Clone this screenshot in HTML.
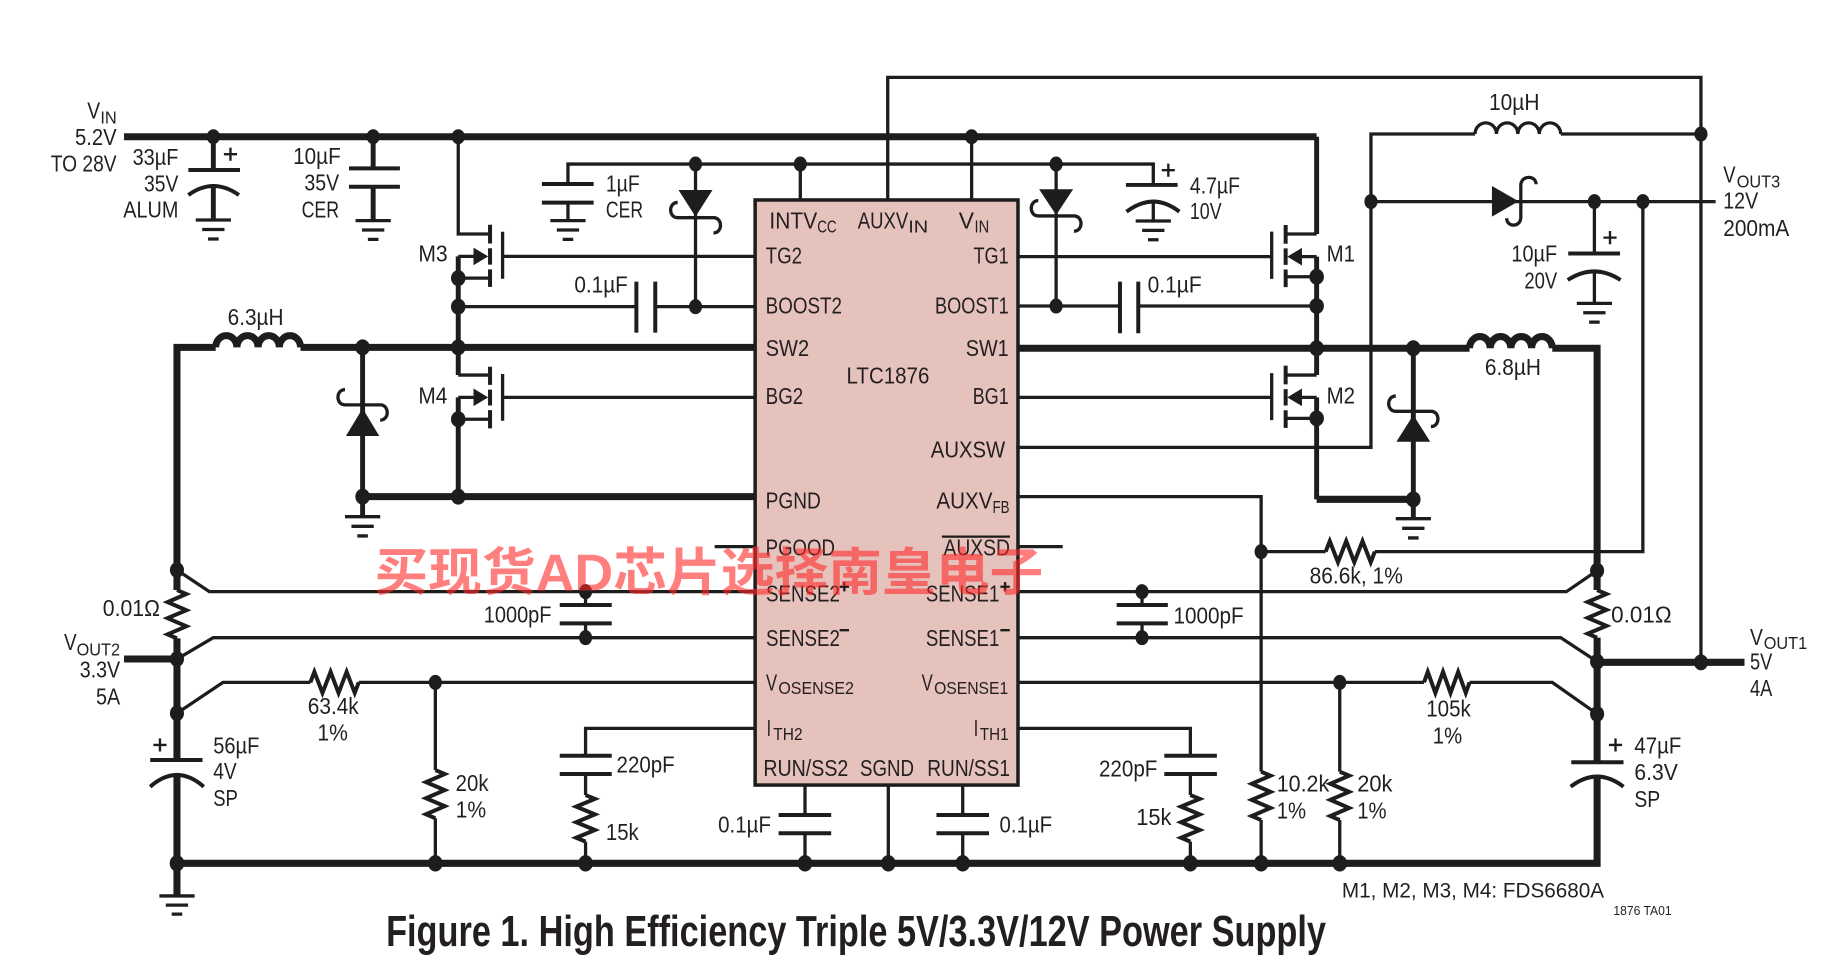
<!DOCTYPE html>
<html><head><meta charset="utf-8"><style>
html,body{margin:0;padding:0;background:#fff;overflow:hidden}
svg{display:block}
text{font-family:"Liberation Sans Narrow","Liberation Sans",sans-serif;font-size:19.5px;fill:#231f20}
.s{font-size:15px}
.th{fill:none;stroke:#1d1d1b;stroke-width:2.8}
.tk{fill:none;stroke:#1d1d1b;stroke-width:6}
.md{fill:none;stroke:#1d1d1b;stroke-width:4.2}
.pl{fill:none;stroke:#1d1d1b;stroke-width:3.4}
.ps{fill:none;stroke:#1d1d1b;stroke-width:2}
</style></head><body>
<svg width="1840" height="970" viewBox="0 0 1568 826.6" preserveAspectRatio="none" xmlns="http://www.w3.org/2000/svg">
<rect x="0" y="0" width="1568" height="826.6" fill="#fff"/>
<!-- IC -->
<rect x="643.5" y="170.4" width="224" height="498.6" fill="#e5c2bc" stroke="#1d1d1b" stroke-width="3"/>

<!-- thin wires -->
<path class="th" d="M756.5,170.4 V65.9 H1449.5 V564.4
M866,381.2 H1168.3 V114.2 H1257 M1330,114.2 H1449.5
M1168.3,171.8 H1462
M1358.7,171.8 V216 M1358.7,231 V258.5
M1400,171.8 V470.1 H1171.6 M1129.7,470.1 H1074.7
M866,423.2 H1074.7 V657.6 M1074.7,698.8 V735.7
M484,156.8 V139.8 H982.8 V157.6 M484,172.7 V188 M982.8,171.8 V188.3
M682,139.8 V170.4 M828,116.5 V170.4
M592.7,139.8 V261.3 M900,139.8 V260.8
M428.3,218.5 H643.5 M428.3,338.6 H643.5
M390.5,261.3 H542.3 M558.4,261.3 H643.5
M867.5,218.7 H1083.7 M867.5,338.6 H1083.7
M867.5,260.8 H954.4 M970,260.8 H1122
M643.5,504.2 H178.4 L150.8,485.7
M643.5,543.4 H181.7 L150.8,561.6
M643.5,581.5 H305.7 M264.5,581.5 H190 L150.8,607.8
M499,504.2 V515.6 M499,531.2 V543.4
M371,581.5 V656.2 M371,697.3 V735.7
M643.5,620.7 H499 V644 M499,659.6 V677.5 M499,717.2 V735.7
M686,669 V694.5 M686,710.1 V735.7
M757,669 V735.7
M820.4,669 V694.5 M820.4,710.1 V735.7
M867.5,504.2 H1334.8 L1361,486.3
M867.5,543.4 H1330 L1361,563.8
M867.5,581.5 H1213.5 M1252.3,581.5 H1322.8 L1361,608.4
M973.2,504.2 V515.6 M973.2,531.2 V543.4
M1141.7,581.5 V657.6 M1141.7,698.8 V735.7
M867.5,620.7 H1014.4 V644 M1014.4,659.6 V677.5 M1014.4,717.2 V735.7
M390.5,116.5 V199.4 H417.6
M390.5,237 H417.6 M390.5,319.6 H417.6 M390.5,357.3 H417.6
M390.5,218.5 H404 M390.5,338.6 H404
M1122,199.4 H1095.6 M1122,235.8 H1095.6 M1122,319.6 H1095.6 M1122,356.5 H1095.6
M1122,218.7 H1109 M1122,338.6 H1109"/>
<path class="th" stroke-width="3.2" d="M609,465.8 H643.5 M867.5,465.8 H905.6"/>

<!-- thick wires -->
<path class="tk" d="M105.7,116.5 H1122
M150.8,502.8 V296 H183.8 M256.1,296 H643.5
M867.5,296.8 H1252.3 M1322.8,296.8 H1361 V502.8
M309,423.2 H643.5
M1122,425.5 H1204.4
M150.8,544 V647.6 M150.8,660.4 V763.5
M150.8,735.7 H1361 V661.8 M1361,543.4 V649.6
M105.7,561.6 H150.8
M1361,564.4 H1486.6"/>
<path class="md" d="M1122,116.5 V199.4 M1122,218.7 V319.6 M1122,338.6 V425.5
M390.5,218.5 V319.6 M390.5,338.6 V423.2
M309,296 V440.3 M1204.4,296.8 V442
M181.8,116.5 V144.9 M181.8,158.5 V187.5
M318,116.5 V143.5 M318,159.1 V188"/>

<!-- inductors -->
<path class="tk" stroke-width="4.5" d="M183.8,296 a9.04,10 0 0 1 18.08,0 a9.04,10 0 0 1 18.08,0 a9.04,10 0 0 1 18.08,0 a9.04,10 0 0 1 18.08,0"/>
<path class="tk" stroke-width="4.5" d="M1252.3,296.8 a8.81,10 0 0 1 17.63,0 a8.81,10 0 0 1 17.63,0 a8.81,10 0 0 1 17.63,0 a8.81,10 0 0 1 17.63,0"/>
<path class="th" stroke-width="3.4" d="M1257,114.2 a9.125,9.5 0 0 1 18.25,0 a9.125,9.5 0 0 1 18.25,0 a9.125,9.5 0 0 1 18.25,0 a9.125,9.5 0 0 1 18.25,0"/>

<!-- resistors -->
<path class="pl" stroke-width="3.2" stroke-linejoin="miter" d="M150.8,502.8 L158.8,506.2 L142.8,513.1 L158.8,520 L142.8,526.8 L158.8,533.7 L142.8,540.6 L150.8,544
M1361,502.8 L1369,506.2 L1353,513 L1369,519.7 L1353,526.5 L1369,533.3 L1353,540 L1361,543.4
M371,656.2 L379,659.6 L363,666.5 L379,673.3 L363,680.2 L379,687 L363,693.9 L371,697.3
M499,677.5 L507,680.8 L491,687.4 L507,694 L491,700.7 L507,707.3 L491,713.9 L499,717.2
M1074.7,657.6 L1082.7,661 L1066.7,667.9 L1082.7,674.8 L1066.7,681.6 L1082.7,688.5 L1066.7,695.4 L1074.7,698.8
M1141.7,657.6 L1149.7,661 L1133.7,667.9 L1149.7,674.8 L1133.7,681.6 L1149.7,688.5 L1133.7,695.4 L1141.7,698.8
M1014.4,677.5 L1022.4,680.8 L1006.4,687.4 L1022.4,694 L1006.4,700.7 L1022.4,707.3 L1006.4,713.9 L1014.4,717.2
M264.5,581.5 L267.9,572.5 L274.8,590.5 L281.7,572.5 L288.5,590.5 L295.4,572.5 L302.3,590.5 L305.7,581.5
M1213.5,581.5 L1216.7,572.5 L1223.2,590.5 L1229.7,572.5 L1236.1,590.5 L1242.6,572.5 L1249.1,590.5 L1252.3,581.5
M1129.7,470.1 L1133.2,461.1 L1140.2,479.1 L1147.2,461.1 L1154.1,479.1 L1161.1,461.1 L1168.1,479.1 L1171.6,470.1"/>

<!-- capacitor plates -->
<path class="pl" d="M160.5,144.9 H204.5 M160.5,166.2 Q181.8,150.8 203.6,166.2
M297.4,143.5 H340.8 M297.4,159.1 H340.8
M461.8,156.8 H505.9 M461.8,172.7 H505.9
M542.3,240 V283.5 M558.4,240 V283.5
M959.5,157.6 H1003.5 M960,180.4 Q982.8,163.2 1005,180.4
M954.4,240 V284 M970,240 V284
M1336.4,216 H1380.5 M1336,238.6 Q1358.5,224 1381,238.6
M477,515.6 H521.3 M477,531.2 H521.3
M951.6,515.6 H995.2 M951.6,531.2 H995.2
M128,647.6 H172.6 M128,670.4 Q150.8,650.4 173.6,670.4
M1339,649.6 H1383.5 M1338.5,670.4 Q1361,653.2 1383.5,670.4
M477,644 H521.3 M477,659.6 H521.3
M992.2,644 H1037 M992.2,659.6 H1037
M663.5,694.5 H708.3 M663.5,710.1 H708.3
M798,694.5 H842.8 M798,710.1 H842.8"/>
<!-- plus signs -->
<path class="ps" d="M190.8,131.4 H202 M196.4,125.8 V137
M990,145 H1001.2 M995.6,139.4 V150.6
M1366.4,202.5 H1377.6 M1372,196.9 V208.1
M130.7,634.8 H141.9 M136.3,629.2 V640.4
M1371.1,634.8 H1382.3 M1376.7,629.2 V640.4"/>

<!-- grounds -->
<path class="th" stroke-width="3" d="M166.8,187.5 H196.8 M172.3,195.6 H191.3 M177.3,203.7 H186.3
M303,188 H333 M308.5,196 H327.5 M313.5,204 H322.5
M469,188 H499 M474.5,196 H493.5 M479.5,204 H488.5
M967.8,188.3 H997.8 M973.3,196.3 H992.3 M978.3,204.3 H987.3
M1343.7,258.5 H1373.7 M1349.2,266.5 H1368.2 M1354.2,274.5 H1363.2
M294,440.3 H324 M299.5,448.5 H318.5 M304.5,456.7 H313.5
M1189.4,442 H1219.4 M1194.9,450.2 H1213.9 M1199.9,458.4 H1208.9
M135.8,763.5 H165.8 M141.3,771.3 H160.3 M146.3,779 H155.3"/>

<!-- MOSFETs channels and gates -->
<path class="pl" d="M417.6,191.5 V207.5 M417.6,211.5 V225.5 M417.6,229.5 V244.5
M417.6,312.5 V328 M417.6,332 V345.5 M417.6,349.5 V365
M1095.6,191.7 V207.7 M1095.6,211.7 V225.7 M1095.6,229.7 V244.7
M1095.6,311.6 V327.6 M1095.6,331.6 V345.6 M1095.6,349.6 V364.6"/>
<path class="th" stroke-width="3" d="M428.3,197.5 V237.5 M428.3,318.7 V358.5 M1083.7,197.4 V237.7 M1083.7,318 V358"/>
<g fill="#1d1d1b">
<polygon points="416,218.5 403.5,211 403.5,226"/>
<polygon points="416,338.6 403.5,331.1 403.5,346.1"/>
<polygon points="1097,218.7 1109.5,211.2 1109.5,226.2"/>
<polygon points="1097,338.6 1109.5,331.1 1109.5,346.1"/>
<!-- diodes -->
<polygon points="578.2,161.9 607.2,161.9 592.7,184.6"/>
<polygon points="885.5,161.3 914.5,161.3 900,183.2"/>
<polygon points="294.8,371.5 323.2,371.5 309,348"/>
<polygon points="1190,376.4 1218.8,376.4 1204.4,353.6"/>
<polygon points="1271.4,158.5 1271.4,184.6 1294.1,171.5"/>
</g>
<path class="th" stroke-width="3" d="M577.5,185.5 H608 M577.5,185.5 C569.5,185.5 569.5,172.5 577.5,172.5 M608,185.5 C616,185.5 616,198.5 608,198.5
M884.8,184 H915.2 M884.8,184 C876.8,184 876.8,171 884.8,171 M915.2,184 C923.2,184 923.2,197 915.2,197
M294,345 H324 M294,345 C286,345 286,332 294,332 M324,345 C332,345 332,358 324,358
M1189.4,350.5 H1219.4 M1189.4,350.5 C1181.4,350.5 1181.4,337.5 1189.4,337.5 M1219.4,350.5 C1227.4,350.5 1227.4,363.5 1219.4,363.5
M1296,158 V185 M1296,158 C1296,149 1309,149 1309,157 M1296,185 C1296,194 1284,194 1284,186"/>

<!-- dots -->
<g fill="#1d1d1b">
<ellipse cx="181.8" cy="116.5" rx="5.6" ry="6.4"/>
<ellipse cx="318" cy="116.5" rx="5.6" ry="6.4"/>
<ellipse cx="390.5" cy="116.5" rx="5.6" ry="6.4"/>
<ellipse cx="828" cy="116.5" rx="5.6" ry="6.4"/>
<ellipse cx="592.7" cy="139.8" rx="5.6" ry="6.4"/>
<ellipse cx="682" cy="139.8" rx="5.6" ry="6.4"/>
<ellipse cx="900" cy="139.8" rx="5.6" ry="6.4"/>
<ellipse cx="390.5" cy="237" rx="6.2" ry="6.8"/>
<ellipse cx="390.5" cy="261.3" rx="6.2" ry="6.8"/>
<ellipse cx="592.7" cy="261.3" rx="5.6" ry="6.4"/>
<ellipse cx="390.5" cy="296" rx="6.2" ry="6.8"/>
<ellipse cx="309" cy="296" rx="6.2" ry="6.8"/>
<ellipse cx="390.5" cy="357.3" rx="6.2" ry="6.8"/>
<ellipse cx="390.5" cy="423.2" rx="6.2" ry="6.8"/>
<ellipse cx="309" cy="423.2" rx="6.2" ry="6.8"/>
<ellipse cx="900" cy="260.8" rx="5.6" ry="6.4"/>
<ellipse cx="1122" cy="235.8" rx="6.2" ry="6.8"/>
<ellipse cx="1122" cy="260.8" rx="6.2" ry="6.8"/>
<ellipse cx="1122" cy="296.8" rx="6.2" ry="6.8"/>
<ellipse cx="1204.4" cy="296.8" rx="6.2" ry="6.8"/>
<ellipse cx="1122" cy="356.5" rx="6.2" ry="6.8"/>
<ellipse cx="1204.4" cy="425.5" rx="6.2" ry="6.8"/>
<ellipse cx="1168.3" cy="171.8" rx="5.6" ry="6.4"/>
<ellipse cx="1358.7" cy="171.8" rx="5.6" ry="6.4"/>
<ellipse cx="1400" cy="171.8" rx="5.6" ry="6.4"/>
<ellipse cx="1449.5" cy="114.2" rx="5.6" ry="6.4"/>
<ellipse cx="1074.7" cy="470.1" rx="5.6" ry="6.4"/>
<ellipse cx="150.8" cy="485.7" rx="6" ry="6.8"/>
<ellipse cx="150.8" cy="561.6" rx="6" ry="6.8"/>
<ellipse cx="150.8" cy="607.8" rx="6" ry="6.8"/>
<ellipse cx="499" cy="504.2" rx="5.6" ry="6.4"/>
<ellipse cx="499" cy="543.4" rx="5.6" ry="6.4"/>
<ellipse cx="371" cy="581.5" rx="5.6" ry="6.4"/>
<ellipse cx="1361" cy="486.3" rx="6" ry="6.8"/>
<ellipse cx="1361" cy="563.8" rx="6" ry="6.8"/>
<ellipse cx="1449.5" cy="564.4" rx="6" ry="6.8"/>
<ellipse cx="1361" cy="608.4" rx="6" ry="6.8"/>
<ellipse cx="973.2" cy="504.2" rx="5.6" ry="6.4"/>
<ellipse cx="973.2" cy="543.4" rx="5.6" ry="6.4"/>
<ellipse cx="1141.7" cy="581.5" rx="5.6" ry="6.4"/>
<ellipse cx="150.8" cy="735.7" rx="6.2" ry="7"/>
<ellipse cx="371" cy="735.7" rx="6.2" ry="7"/>
<ellipse cx="499" cy="735.7" rx="6.2" ry="7"/>
<ellipse cx="686" cy="735.7" rx="6.2" ry="7"/>
<ellipse cx="757" cy="735.7" rx="6.2" ry="7"/>
<ellipse cx="820.4" cy="735.7" rx="6.2" ry="7"/>
<ellipse cx="1014.4" cy="735.7" rx="6.2" ry="7"/>
<ellipse cx="1074.7" cy="735.7" rx="6.2" ry="7"/>
<ellipse cx="1141.7" cy="735.7" rx="6.2" ry="7"/>
</g>

<!-- AUXSD overline, SENSE super signs -->
<path class="ps" stroke-width="1.8" d="M802.7,457.3 H860.7 M715.5,500 H723.5 M719.5,496 V504 M852.5,500 H860.5 M856.5,496 V504 M715.5,537 H723.5 M852.5,537 H860.5"/>

<!-- text labels -->
<g lengthAdjust="spacingAndGlyphs">
<text x="74.4" y="100.9" textLength="11" lengthAdjust="spacingAndGlyphs">V</text>
<text class="s" x="85.5" y="105.1" textLength="14" lengthAdjust="spacingAndGlyphs">IN</text>
<text x="63.9" y="123.6" textLength="35.5" lengthAdjust="spacingAndGlyphs">5.2V</text>
<text x="43.2" y="146.3" textLength="56.2" lengthAdjust="spacingAndGlyphs">TO 28V</text>
<text x="113" y="140.6" textLength="39" lengthAdjust="spacingAndGlyphs">33µF</text>
<text x="122.7" y="163.3" textLength="29.3" lengthAdjust="spacingAndGlyphs">35V</text>
<text x="105" y="185.5" textLength="47" lengthAdjust="spacingAndGlyphs">ALUM</text>
<text x="249.8" y="139.6" textLength="40.6" lengthAdjust="spacingAndGlyphs">10µF</text>
<text x="259.4" y="162.5" textLength="29.6" lengthAdjust="spacingAndGlyphs">35V</text>
<text x="257" y="185.2" textLength="32" lengthAdjust="spacingAndGlyphs">CER</text>
<text x="516.3" y="163.3" textLength="28.9" lengthAdjust="spacingAndGlyphs">1µF</text>
<text x="516.3" y="185.2" textLength="31.7" lengthAdjust="spacingAndGlyphs">CER</text>
<text x="489.5" y="249.4" textLength="45.5" lengthAdjust="spacingAndGlyphs">0.1µF</text>
<text x="356.5" y="223" textLength="25" lengthAdjust="spacingAndGlyphs">M3</text>
<text x="356.5" y="343.7" textLength="24.7" lengthAdjust="spacingAndGlyphs">M4</text>
<text x="194" y="277" textLength="47.6" lengthAdjust="spacingAndGlyphs">6.3µH</text>

<text x="655.7" y="194.6" textLength="40.7" lengthAdjust="spacingAndGlyphs">INTV</text>
<text class="s" x="696.4" y="198.3" textLength="16.6" lengthAdjust="spacingAndGlyphs">CC</text>
<text x="731" y="194.6" textLength="43" lengthAdjust="spacingAndGlyphs">AUXV</text>
<text class="s" x="774" y="198.3" textLength="17" lengthAdjust="spacingAndGlyphs">IN</text>
<text x="817" y="194.6" textLength="13" lengthAdjust="spacingAndGlyphs">V</text>
<text class="s" x="830.5" y="198.3" textLength="12.5" lengthAdjust="spacingAndGlyphs">IN</text>
<text x="652.5" y="224.4" textLength="31" lengthAdjust="spacingAndGlyphs">TG2</text>
<text x="829.6" y="224.4" textLength="30" lengthAdjust="spacingAndGlyphs">TG1</text>
<text x="652.5" y="267" textLength="65" lengthAdjust="spacingAndGlyphs">BOOST2</text>
<text x="796.8" y="267" textLength="62.8" lengthAdjust="spacingAndGlyphs">BOOST1</text>
<text x="652.5" y="303.4" textLength="37" lengthAdjust="spacingAndGlyphs">SW2</text>
<text x="823" y="303.4" textLength="36.6" lengthAdjust="spacingAndGlyphs">SW1</text>
<text x="721.4" y="326.7" textLength="70.6" lengthAdjust="spacingAndGlyphs">LTC1876</text>
<text x="652.5" y="344.3" textLength="32" lengthAdjust="spacingAndGlyphs">BG2</text>
<text x="829" y="344.3" textLength="30.6" lengthAdjust="spacingAndGlyphs">BG1</text>
<text x="793.2" y="389.7" textLength="63.4" lengthAdjust="spacingAndGlyphs">AUXSW</text>
<text x="652.5" y="433.2" textLength="47" lengthAdjust="spacingAndGlyphs">PGND</text>
<text x="798" y="433.2" textLength="47.8" lengthAdjust="spacingAndGlyphs">AUXV</text>
<text class="s" x="845.8" y="437" textLength="14.5" lengthAdjust="spacingAndGlyphs">FB</text>
<text x="652.5" y="473.5" textLength="59" lengthAdjust="spacingAndGlyphs">PGOOD</text>
<text x="804" y="473.5" textLength="56.7" lengthAdjust="spacingAndGlyphs">AUXSD</text>
<text x="652.8" y="512.5" textLength="63" lengthAdjust="spacingAndGlyphs">SENSE2</text>
<text x="789" y="512.5" textLength="62.6" lengthAdjust="spacingAndGlyphs">SENSE1</text>
<text x="652.8" y="550.5" textLength="63" lengthAdjust="spacingAndGlyphs">SENSE2</text>
<text x="789" y="550.5" textLength="62.6" lengthAdjust="spacingAndGlyphs">SENSE1</text>
<text x="652.8" y="588.6" textLength="9.5" lengthAdjust="spacingAndGlyphs">V</text>
<text class="s" x="663.3" y="591.4" textLength="64.4" lengthAdjust="spacingAndGlyphs">OSENSE2</text>
<text x="785.4" y="588.6" textLength="9.5" lengthAdjust="spacingAndGlyphs">V</text>
<text class="s" x="796" y="591.4" textLength="63.2" lengthAdjust="spacingAndGlyphs">OSENSE1</text>
<text x="653.3" y="627" textLength="3.8" lengthAdjust="spacingAndGlyphs">I</text>
<text class="s" x="659" y="630.6" textLength="25" lengthAdjust="spacingAndGlyphs">TH2</text>
<text x="829.8" y="627" textLength="3.8" lengthAdjust="spacingAndGlyphs">I</text>
<text class="s" x="835" y="630.6" textLength="24.5" lengthAdjust="spacingAndGlyphs">TH1</text>
<text x="650.5" y="661.3" textLength="72.4" lengthAdjust="spacingAndGlyphs">RUN/SS2</text>
<text x="732.9" y="661.3" textLength="46" lengthAdjust="spacingAndGlyphs">SGND</text>
<text x="790.2" y="661.3" textLength="70.5" lengthAdjust="spacingAndGlyphs">RUN/SS1</text>

<text x="1014" y="164.7" textLength="42.7" lengthAdjust="spacingAndGlyphs">4.7µF</text>
<text x="1014" y="186.7" textLength="27" lengthAdjust="spacingAndGlyphs">10V</text>
<text x="978" y="249.4" textLength="46" lengthAdjust="spacingAndGlyphs">0.1µF</text>
<text x="1130.5" y="223" textLength="24.2" lengthAdjust="spacingAndGlyphs">M1</text>
<text x="1130.5" y="343.7" textLength="24.2" lengthAdjust="spacingAndGlyphs">M2</text>
<text x="1268.9" y="93.7" textLength="43" lengthAdjust="spacingAndGlyphs">10µH</text>
<text x="1468.5" y="155.7" textLength="10.5" lengthAdjust="spacingAndGlyphs">V</text>
<text class="s" x="1480" y="159.6" textLength="37" lengthAdjust="spacingAndGlyphs">OUT3</text>
<text x="1468.5" y="177.5" textLength="29.8" lengthAdjust="spacingAndGlyphs">12V</text>
<text x="1468.5" y="201.1" textLength="56.3" lengthAdjust="spacingAndGlyphs">200mA</text>
<text x="1288" y="223" textLength="39" lengthAdjust="spacingAndGlyphs">10µF</text>
<text x="1299" y="245.7" textLength="28" lengthAdjust="spacingAndGlyphs">20V</text>
<text x="1265.4" y="319.6" textLength="47.8" lengthAdjust="spacingAndGlyphs">6.8µH</text>
<text x="1116" y="497.1" textLength="79.5" lengthAdjust="spacingAndGlyphs">86.6k, 1%</text>
<text x="1373" y="530.6" textLength="51.5" lengthAdjust="spacingAndGlyphs">0.01Ω</text>
<text x="1000" y="531.2" textLength="59.8" lengthAdjust="spacingAndGlyphs">1000pF</text>
<text x="1491.3" y="549.6" textLength="11" lengthAdjust="spacingAndGlyphs">V</text>
<text class="s" x="1503" y="553" textLength="37" lengthAdjust="spacingAndGlyphs">OUT1</text>
<text x="1491.3" y="570.4" textLength="19" lengthAdjust="spacingAndGlyphs">5V</text>
<text x="1491.3" y="593.1" textLength="19" lengthAdjust="spacingAndGlyphs">4A</text>
<text x="1215.4" y="610.7" textLength="38" lengthAdjust="spacingAndGlyphs">105k</text>
<text x="1221" y="633.4" textLength="25" lengthAdjust="spacingAndGlyphs">1%</text>
<text x="936.5" y="661.8" textLength="49.8" lengthAdjust="spacingAndGlyphs">220pF</text>
<text x="968.3" y="703" textLength="30" lengthAdjust="spacingAndGlyphs">15k</text>
<text x="1088" y="674.6" textLength="44.7" lengthAdjust="spacingAndGlyphs">10.2k</text>
<text x="1088" y="697.3" textLength="25" lengthAdjust="spacingAndGlyphs">1%</text>
<text x="1156.6" y="674.6" textLength="30" lengthAdjust="spacingAndGlyphs">20k</text>
<text x="1156.6" y="697.3" textLength="25" lengthAdjust="spacingAndGlyphs">1%</text>
<text x="1392.8" y="642" textLength="40" lengthAdjust="spacingAndGlyphs">47µF</text>
<text x="1392.8" y="664.8" textLength="37" lengthAdjust="spacingAndGlyphs">6.3V</text>
<text x="1392.8" y="687.5" textLength="22" lengthAdjust="spacingAndGlyphs">SP</text>
<text x="851.8" y="709.6" textLength="44.8" lengthAdjust="spacingAndGlyphs">0.1µF</text>
<text x="612" y="709.6" textLength="45" lengthAdjust="spacingAndGlyphs">0.1µF</text>

<text x="87.6" y="525" textLength="48.7" lengthAdjust="spacingAndGlyphs">0.01Ω</text>
<text x="54.5" y="553.9" textLength="10.8" lengthAdjust="spacingAndGlyphs">V</text>
<text class="s" x="65.3" y="558.7" textLength="37" lengthAdjust="spacingAndGlyphs">OUT2</text>
<text x="68" y="577.2" textLength="34.4" lengthAdjust="spacingAndGlyphs">3.3V</text>
<text x="81.8" y="600.2" textLength="20.6" lengthAdjust="spacingAndGlyphs">5A</text>
<text x="412.2" y="530.3" textLength="57.8" lengthAdjust="spacingAndGlyphs">1000pF</text>
<text x="262.3" y="608.4" textLength="43.4" lengthAdjust="spacingAndGlyphs">63.4k</text>
<text x="270.5" y="631.2" textLength="26" lengthAdjust="spacingAndGlyphs">1%</text>
<text x="181.7" y="642" textLength="39.3" lengthAdjust="spacingAndGlyphs">56µF</text>
<text x="181.7" y="664" textLength="20" lengthAdjust="spacingAndGlyphs">4V</text>
<text x="181.7" y="686.8" textLength="21" lengthAdjust="spacingAndGlyphs">SP</text>
<text x="388.3" y="674" textLength="28" lengthAdjust="spacingAndGlyphs">20k</text>
<text x="388.3" y="696.5" textLength="26" lengthAdjust="spacingAndGlyphs">1%</text>
<text x="525.4" y="658.4" textLength="49.6" lengthAdjust="spacingAndGlyphs">220pF</text>
<text x="516.3" y="715.8" textLength="28" lengthAdjust="spacingAndGlyphs">15k</text>

<text x="1143.5" y="764.7" style="font-size:18px" textLength="223.5" lengthAdjust="spacingAndGlyphs">M1, M2, M3, M4: FDS6680A</text>
<text x="1374.9" y="779.7" style="font-size:11px" textLength="49.6" lengthAdjust="spacingAndGlyphs">1876 TA01</text>
<text x="329" y="806" style="font-size:37px;font-weight:bold" textLength="801" lengthAdjust="spacingAndGlyphs">Figure 1. High Efficiency Triple 5V/3.3V/12V Power Supply</text>
</g>

<!-- watermark -->
<text x="319" y="503" textLength="570" lengthAdjust="spacingAndGlyphs" style="font-family:'Liberation Sans','Noto Sans CJK SC','WenQuanYi Zen Hei',sans-serif;font-size:44px;font-weight:bold;fill:#ff2a2a;fill-opacity:0.6">买现货AD芯片选择南皇电子</text>
</svg>
</body></html>
